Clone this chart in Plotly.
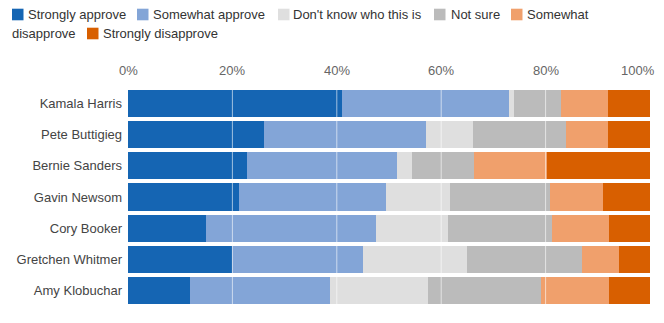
import plotly.graph_objects as go

# Survey results per potential candidate (counts normalised to 100% per bar)
candidates = ["Kamala Harris", "Pete Buttigieg", "Bernie Sanders", "Gavin Newsom",
              "Cory Booker", "Gretchen Whitmer", "Amy Klobuchar"]
strongly_approve = [41, 26, 23, 21, 15, 20, 12]
somewhat_approve = [32, 31, 29, 28, 33, 25, 27]
dont_know = [1, 9, 3, 12, 14, 20, 19]
not_sure = [9, 18, 12, 19, 20, 22, 22]
somewhat_disapprove = [9, 8, 14, 10, 11, 7, 13]
strongly_disapprove = [8, 8, 20, 9, 8, 6, 8]

series_names = ["Strongly approve", "Somewhat approve", "Don't know who this is",
                "Not sure", "Somewhat disapprove", "Strongly disapprove"]
series_values = [strongly_approve, somewhat_approve, dont_know,
                 not_sure, somewhat_disapprove, strongly_disapprove]
colors = ["#1565b3", "#83a5d7", "#dfdfdf", "#bbbbbb", "#f0a06c", "#d85f00"]

tick_values = [0, 20, 40, 60, 80, 100]
tick_labels = ["0%", "20%", "40%", "60%", "80%", "100%"]

W, H = 664, 323
ML, MR, MT, MB = 128, 14, 88, 17
PW, PH = W - ML - MR, H - MT - MB
FONT = "Liberation Sans, Arial, sans-serif"


def px(x):
    return (x - ML) / PW


def py(y):
    return (H - MB - y) / PH


fig = go.Figure()
for name, vals, col in zip(series_names, series_values, colors):
    fig.add_trace(go.Bar(
        y=candidates, x=vals, name=name, orientation="h",
        marker=dict(color=col, line=dict(width=0)),
        showlegend=False, hoverinfo="skip",
    ))

shapes = []
annotations = []

# white grid lines drawn over the bars
for v in tick_values[1:-1]:
    shapes.append(dict(type="line", xref="x", yref="paper", x0=v, x1=v, y0=0, y1=1,
                       line=dict(color="rgba(255,255,255,0.6)", width=1), layer="above"))

# percentage labels along the top
for v, t in zip(tick_values, tick_labels):
    last = v == tick_values[-1]
    annotations.append(dict(
        xref="x", yref="paper", x=v, y=py(71), text=t, showarrow=False,
        xanchor="right" if last else "center", yanchor="middle",
        xshift=7 if last else 0,
        font=dict(family=FONT, size=13, color="#666666"),
    ))

# legend that flows onto a second line
legend_items = [
    (0, 12, 25.5, "Strongly approve"),
    (1, 137, 151, "Somewhat approve"),
    (2, 278, 291, "Don't know who this is"),
    (3, 434, 449, "Not sure"),
    (4, 511, 525, "Somewhat"),
]
row1, row2 = 14.5, 33.5
for idx, sx, tx, label in legend_items:
    shapes.append(dict(type="rect", xref="paper", yref="paper",
                       x0=px(sx), x1=px(sx + 11.5), y0=py(row1 + 5.8), y1=py(row1 - 5.8),
                       fillcolor=colors[idx], line=dict(width=0)))
    annotations.append(dict(xref="paper", yref="paper", x=px(tx), y=py(row1), text=label,
                            showarrow=False, xanchor="left", yanchor="middle",
                            font=dict(family=FONT, size=13, color="#333333")))
annotations.append(dict(xref="paper", yref="paper", x=px(9.5), y=py(row2), text="disapprove",
                        showarrow=False, xanchor="left", yanchor="middle",
                        font=dict(family=FONT, size=13, color="#333333")))
shapes.append(dict(type="rect", xref="paper", yref="paper",
                   x0=px(87), x1=px(98.5), y0=py(row2 + 5.8), y1=py(row2 - 5.8),
                   fillcolor=colors[5], line=dict(width=0)))
annotations.append(dict(xref="paper", yref="paper", x=px(100.5), y=py(row2),
                        text="Strongly disapprove",
                        showarrow=False, xanchor="left", yanchor="middle",
                        font=dict(family=FONT, size=13, color="#333333")))

fig.update_layout(
    width=W, height=H,
    margin=dict(l=ML, r=MR, t=MT, b=MB, pad=0),
    barmode="stack", barnorm="percent", bargap=0.13,
    plot_bgcolor="white", paper_bgcolor="white",
    xaxis=dict(range=[0, 100], showgrid=False, zeroline=False, showticklabels=False,
               showline=False, fixedrange=True),
    yaxis=dict(autorange="reversed", showgrid=False, zeroline=False, showline=False,
               ticks="", ticklabelstandoff=5,
               tickfont=dict(family=FONT, size=13, color="#444444")),
    shapes=shapes, annotations=annotations,
    font=dict(family=FONT),
)

fig.write_html("out.html")
